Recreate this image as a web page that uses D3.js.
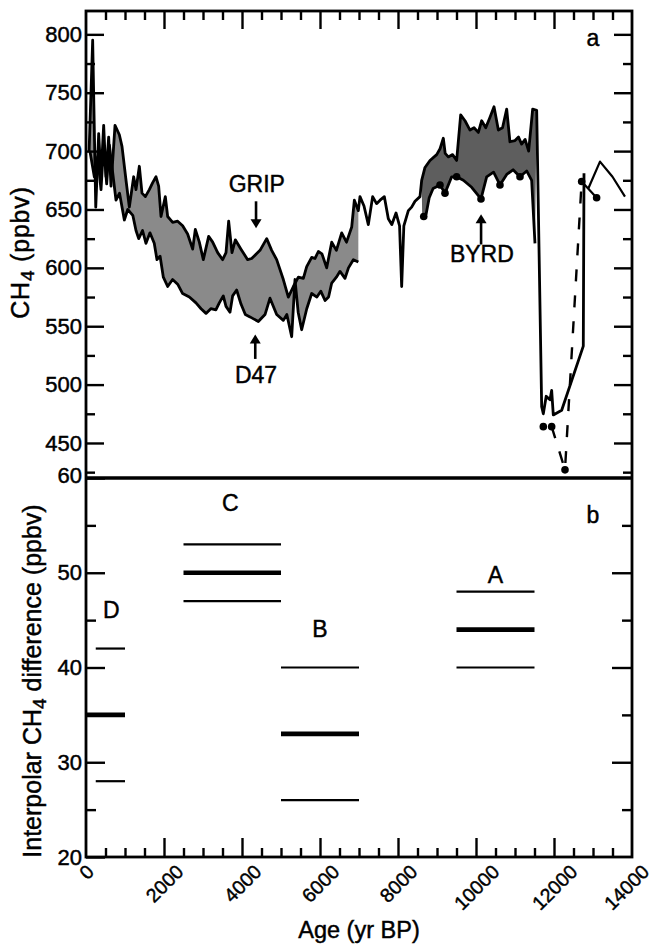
<!DOCTYPE html>
<html><head><meta charset="utf-8">
<script src="https://cdn.jsdelivr.net/npm/d3@7"></script>
<style>
html,body{margin:0;padding:0;background:#fff;}
svg text{font-family:"Liberation Sans",Arial,Helvetica,sans-serif;fill:#000;stroke:#000;stroke-width:0.45px;}
</style></head>
<body><svg id="c" width="653" height="946"></svg>
<script>
// ---------- DATA ----------
// Greenland (GRIP) CH4 record, [age yr BP, ppbv]
const gripCH4 = [[80,700],[171,795],[250,652],[325,715],[385,678],[453,722],[513,678],[581,712],[641,670],[744,722],[855,714],[923,704],[1026,675],[1111,652],[1222,678],[1282,667],[1368,687],[1436,664],[1522,661],[1624,667],[1710,673],[1795,678],[1863,670],[1923,644],[2034,661],[2094,644],[2222,639],[2350,640],[2478,636],[2606,629],[2735,616],[2803,633],[2906,622],[3008,607],[3145,627],[3248,622],[3376,613],[3504,607],[3590,613],[3658,640],[3743,613],[3829,624],[3974,616],[4145,607],[4248,608],[4462,615],[4633,625],[4761,615],[4889,607],[5060,590],[5188,575],[5317,584],[5445,592],[5573,591],[5659,601],[5787,609],[5870,608],[5958,614],[6050,612],[6172,600],[6300,622],[6420,615],[6556,630],[6680,622],[6813,635],[6881,658],[6983,649],[7025,661],[7128,653],[7239,637],[7350,661],[7450,655],[7540,658],[7650,661],[7752,642],[7840,637],[7949,647],[8040,636],[8094,584],[8150,636],[8265,649],[8350,652],[8436,657],[8564,661],[8607,675],[8692,686],[8820,692],[8992,697],[9078,702],[9162,711],[9210,698],[9290,695],[9400,697],[9504,692],[9607,731],[9718,726],[9846,718],[9950,720],[10060,716],[10145,726],[10250,720],[10359,729],[10462,738],[10573,718],[10680,720],[10787,736],[10870,708],[11000,709],[11090,712],[11170,706],[11260,710],[11350,700],[11453,736],[11556,735],[11684,481],[11726,475],[11800,490],[11897,487],[11940,495],[11982,474],[12197,478],[12751,533],[12769,681]];
// older GRIP segment
const gripOld = [[12880,668],[13179,691],[13500,678],[13820,661]];
// Antarctic D47 record
const d47CH4 = [[100,700],[213,678],[299,695],[385,667],[453,705],[530,672],[600,705],[769,658],[860,664],[983,641],[1070,650],[1200,645],[1282,632],[1351,625],[1450,632],[1538,621],[1640,630],[1750,621],[1820,607],[1900,610],[1983,592],[2094,584],[2220,590],[2350,586],[2478,578],[2650,575],[2820,570],[2950,565],[3077,561],[3200,565],[3330,564],[3418,570],[3520,576],[3590,567],[3692,562],[3760,576],[3863,581],[3974,569],[4085,560],[4205,558],[4419,554],[4590,560],[4718,574],[4889,560],[5060,555],[5150,560],[5274,541],[5359,590],[5440,562],[5530,547],[5660,565],[5787,578],[5920,575],[6020,580],[6129,572],[6220,575],[6300,587],[6420,592],[6513,597],[6641,591],[6730,600],[6855,607],[6983,605]];
// Antarctic BYRD record
const byrdCH4 = [[8620,644],[8720,646],[8800,660],[8900,668],[9077,671],[9205,664],[9376,678],[9504,678],[9675,675],[9889,669],[10128,659],[10273,678],[10450,682],[10615,671],[10787,680],[10950,684],[11128,678],[11300,683],[11427,675],[11512,621]];
const byrdDots = [[8660,644],[9077,671],[9205,664],[9504,678],[10128,659],[10615,671],[11128,678]];
const byrdYD = [[11940,464],[12282,427],[12709,674]];
const byrdYD2 = [[12709,674],[13093,660]];
const byrdYDDots = [[11726,464],[11940,464],[12282,427],[12709,674],[13093,660]];

// Panel b: interpolar difference periods
const periods = ["D","C","B","A"];
const periodStart = [0,2500,5000,9500];
const periodEnd = [1000,5000,7000,11500];
const diffLow = [28,47,26,40];
const diffMid = [35,50,33,44];
const diffHigh = [42,53,40,48];

const ageTicks = [0,2000,4000,6000,8000,10000,12000,14000];
const ch4Ticks = [800,750,700,650,600,550,500,450];
const diffTicks = [60,50,40,30,20];

// ---------- LAYOUT ----------
const svg = d3.select("#c");
const L = 86, R = 632, T = 11, MID = 478, B = 857;
const x = d3.scaleLinear().domain([0,14000]).range([L,R]);
const yA = d3.scaleLinear().domain([420,820]).range([MID,T]);
const yB = d3.scaleLinear().domain([20,60]).range([B,MID]);
const FONT = '"Liberation Sans",Arial,Helvetica,sans-serif';

// ---------- PANEL A ----------
const line = d3.line().x(d=>x(d[0])).y(d=>yA(d[1]));
function band(upper, lower){
  const pts = upper.concat(lower.slice().reverse());
  return line(pts) + "Z";
}
const up1 = gripCH4.filter(d=>d[0]<=6983);
svg.append("path").attr("d", band(up1, d47CH4)).attr("fill", "#8a8a8a").attr("stroke","none");
const up2 = gripCH4.filter(d=>d[0]>=8607 && d[0]<=11556);
svg.append("path").attr("d", band(up2, byrdCH4)).attr("fill", "#5e5e5e").attr("stroke","none");

const lineStyle = s => s.attr("fill","none").attr("stroke","#000").attr("stroke-width",2.8).attr("stroke-linejoin","round");
svg.append("path").attr("d", line(gripCH4)).call(lineStyle);
svg.append("path").attr("d", line(gripOld)).call(lineStyle).attr("stroke-width",2.2);
svg.append("path").attr("d", line(d47CH4)).call(lineStyle);
svg.append("path").attr("d", line(byrdCH4)).call(lineStyle);
svg.append("path").attr("d", line(byrdYD)).call(lineStyle).attr("stroke-width",2.4).attr("stroke-dasharray","12,14");
svg.append("path").attr("d", line(byrdYD2)).call(lineStyle).attr("stroke-width",2.2);
svg.selectAll("circle.bd").data(byrdDots.concat(byrdYDDots)).enter().append("circle")
  .attr("cx",d=>x(d[0])).attr("cy",d=>yA(d[1])).attr("r",3.8).attr("fill","#000");

// ---------- PANEL B ----------
const segs = [];
periods.forEach((p,i)=>{
  segs.push({x0: periodStart[i] === 0 ? 250 : periodStart[i], x1: periodEnd[i], v: diffLow[i], w: 2.2});
  segs.push({x0: periodStart[i], x1: periodEnd[i], v: diffMid[i], w: 4.6});
  segs.push({x0: periodStart[i] === 0 ? 250 : periodStart[i], x1: periodEnd[i], v: diffHigh[i], w: 2.2});
});
svg.selectAll("line.seg").data(segs).enter().append("line")
  .attr("x1",d=>x(d.x0)).attr("x2",d=>x(d.x1)).attr("y1",d=>yB(d.v)).attr("y2",d=>yB(d.v))
  .attr("stroke","#000").attr("stroke-width",d=>d.w);

// period letters
const letterY = [45.2, 56.5, 43.2, 48.9];
const letterX = [650, 3700, 6000, 10500];
periods.forEach((p,i)=>{
  svg.append("text").attr("x", x(letterX[i])).attr("y", yB(letterY[i]))
    .attr("text-anchor","middle").attr("font-size",23).text(p);
});

// ---------- AXES ----------
function styleAxis(g){ g.select(".domain").remove(); g.selectAll("line").attr("stroke","#000").attr("stroke-width",2.4); g.selectAll("text").attr("font-family",FONT).attr("fill","#000"); }

// left, panel a
svg.append("g").attr("transform",`translate(${L},0)`)
  .call(d3.axisLeft(yA).tickValues(ch4Ticks).tickSize(-18).tickPadding(4).tickFormat(d3.format("d")))
  .call(styleAxis).call(g=>g.selectAll("text").attr("font-size",22));
svg.append("g").attr("transform",`translate(${L},0)`)
  .call(d3.axisLeft(yA).tickValues(d3.range(425,820,50)).tickSize(-9).tickFormat(""))
  .call(styleAxis);
// right, panel a
svg.append("g").attr("transform",`translate(${R},0)`)
  .call(d3.axisRight(yA).tickValues(ch4Ticks).tickSize(-18).tickFormat(""))
  .call(styleAxis);
svg.append("g").attr("transform",`translate(${R},0)`)
  .call(d3.axisRight(yA).tickValues(d3.range(425,820,50)).tickSize(-9).tickFormat(""))
  .call(styleAxis);
// top, panel a
svg.append("g").attr("transform",`translate(0,${T})`)
  .call(d3.axisTop(x).tickValues(ageTicks.slice(1,-1)).tickSize(-18).tickFormat(""))
  .call(styleAxis);
svg.append("g").attr("transform",`translate(0,${T})`)
  .call(d3.axisTop(x).tickValues(d3.range(500,14000,500).filter(v=>v%2000!==0)).tickSize(-9).tickFormat(""))
  .call(styleAxis);

// left, panel b
const gbl = svg.append("g").attr("transform",`translate(${L},0)`)
  .call(d3.axisLeft(yB).tickValues(diffTicks).tickSize(-19).tickPadding(4))
  .call(styleAxis).call(g=>g.selectAll("text").attr("font-size",22));
gbl.selectAll(".tick").filter(d=>d===60).select("text").attr("dy","0.22em");
svg.append("g").attr("transform",`translate(${L},0)`)
  .call(d3.axisLeft(yB).tickValues([25,35,45,55]).tickSize(-10).tickFormat(""))
  .call(styleAxis);
// right, panel b
svg.append("g").attr("transform",`translate(${R},0)`)
  .call(d3.axisRight(yB).tickValues([30,40,50]).tickSize(-20).tickFormat(""))
  .call(styleAxis);
svg.append("g").attr("transform",`translate(${R},0)`)
  .call(d3.axisRight(yB).tickValues([25,35,45,55]).tickSize(-10).tickFormat(""))
  .call(styleAxis);
// bottom
const gx = svg.append("g").attr("transform",`translate(0,${B})`)
  .call(d3.axisBottom(x).tickValues(ageTicks).tickSize(-19).tickFormat(d3.format("d")))
  .call(styleAxis);
gx.selectAll(".tick").filter(d=>d===0||d===14000).select("line").remove();
gx.selectAll(".tick").each(function(d){
  const t = d3.select(this).select("text").attr("font-size",19.5).attr("text-anchor","end").attr("y",0).attr("dy",0);
  const len = t.node().getComputedTextLength();
  let off = 0.3535*(len+14);
  const xe = x(d) + off;
  if (xe > 650) off -= (xe - 650);
  t.attr("transform",`translate(${off},16) rotate(-45)`);
});
svg.append("g").attr("transform",`translate(0,${B})`)
  .call(d3.axisBottom(x).tickValues(d3.range(500,14000,500).filter(v=>v%2000!==0)).tickSize(-9).tickFormat(""))
  .call(styleAxis);

// frame
svg.append("rect").attr("x",L).attr("y",T).attr("width",R-L).attr("height",B-T)
  .attr("fill","none").attr("stroke","#000").attr("stroke-width",2.8);
svg.append("line").attr("x1",L).attr("x2",R).attr("y1",MID).attr("y2",MID)
  .attr("stroke","#000").attr("stroke-width",3.4);

// ---------- LABELS ----------
svg.append("text").attr("x",x(13000)).attr("y",yA(790)).attr("text-anchor","middle").attr("font-size",23).text("a");
svg.append("text").attr("x",x(13000)).attr("y",yB(55.2)).attr("text-anchor","middle").attr("font-size",23).text("b");

function arrow(xv, yFrom, yTo){
  const xp = x(xv), y1 = yA(yFrom), y2 = yA(yTo);
  const dir = Math.sign(y2-y1);
  svg.append("line").attr("x1",xp).attr("x2",xp).attr("y1",y1).attr("y2",y2-dir*6).attr("stroke","#000").attr("stroke-width",2.6);
  svg.append("path").attr("d",`M${xp-5.5},${y2-dir*9}L${xp+5.5},${y2-dir*9}L${xp},${y2}Z`).attr("fill","#000");
}
svg.append("text").attr("x",x(4380)).attr("y",yA(665)).attr("text-anchor","middle").attr("font-size",23).text("GRIP");
arrow(4360, 657, 634);
svg.append("text").attr("x",x(4360)).attr("y",yA(501)).attr("text-anchor","middle").attr("font-size",23).text("D47");
arrow(4340, 522, 543);
svg.append("text").attr("x",x(10150)).attr("y",yA(605)).attr("text-anchor","middle").attr("font-size",23).text("BYRD");
arrow(10130, 620, 646);

// axis titles
const t1 = svg.append("text").attr("transform",`translate(29,${(182+323)/2}) rotate(-90)`)
  .attr("text-anchor","middle").attr("font-size",25).attr("letter-spacing",0.8);
t1.append("tspan").text("CH");
t1.append("tspan").attr("dy",5).attr("font-size",19).text("4");
t1.append("tspan").attr("dy",-5).text(" (ppbv)");

const t2 = svg.append("text").attr("transform",`translate(41,681) rotate(-90)`)
  .attr("text-anchor","middle").attr("font-size",25);
t2.append("tspan").text("Interpolar CH");
t2.append("tspan").attr("dy",5).attr("font-size",19).text("4");
t2.append("tspan").attr("dy",-5).text(" difference (ppbv)");

svg.append("text").attr("x",(L+R)/2).attr("y",938).attr("text-anchor","middle").attr("font-size",23.5).text("Age (yr BP)");
</script></body></html>
